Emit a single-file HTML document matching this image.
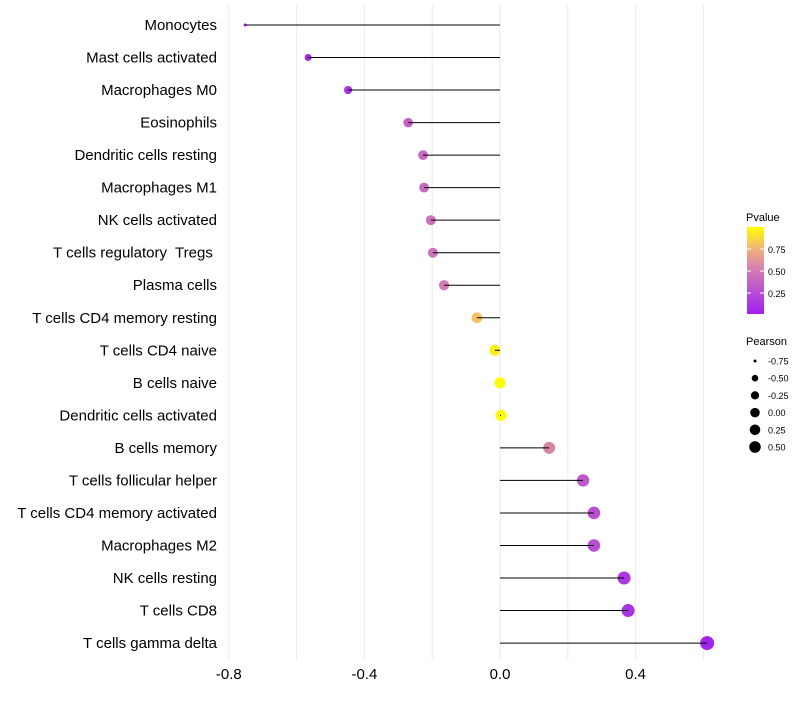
<!DOCTYPE html>
<html><head><meta charset="utf-8"><style>
body{margin:0;background:#fff;font-family:"Liberation Sans",sans-serif}
svg text{font-family:"Liberation Sans",sans-serif;white-space:pre}
</style></head><body>
<svg id="c" width="800" height="700" xmlns="http://www.w3.org/2000/svg">
<defs><linearGradient id="pg" x1="0" y1="1" x2="0" y2="0">
<stop offset="0" stop-color="#a020f0"/><stop offset="0.5" stop-color="#d27bb4"/><stop offset="0.75" stop-color="#f2b37a"/><stop offset="1" stop-color="#ffff00"/></linearGradient></defs>
<g id="grid"></g><g id="pts"></g><g id="marks"></g><g id="labels"></g>
<g>
<text x="746" y="221" font-size="11" fill="#000">Pvalue</text>
<rect x="747" y="227" width="17" height="87" fill="url(#pg)"/>
<text x="768" y="253" font-size="9">0.75</text><text x="768" y="275" font-size="9">0.50</text><text x="768" y="297" font-size="9">0.25</text>
<line x1="747" y1="249" x2="751" y2="249" stroke="#fff"/><line x1="760" y1="249" x2="764" y2="249" stroke="#fff"/>
<line x1="747" y1="271" x2="751" y2="271" stroke="#fff"/><line x1="760" y1="271" x2="764" y2="271" stroke="#fff"/>
<line x1="747" y1="293" x2="751" y2="293" stroke="#fff"/><line x1="760" y1="293" x2="764" y2="293" stroke="#fff"/>
</g>
<g id="sleg"><text x="746" y="345" font-size="11">Pearson</text></g>
</svg>
<script>
const categories=["Monocytes","Mast cells activated","Macrophages M0","Eosinophils","Dendritic cells resting","Macrophages M1","NK cells activated","T cells regulatory  Tregs ","Plasma cells","T cells CD4 memory resting","T cells CD4 naive","B cells naive","Dendritic cells activated","B cells memory","T cells follicular helper","T cells CD4 memory activated","Macrophages M2","NK cells resting","T cells CD8","T cells gamma delta"];
const pearson=[-0.752,-0.566,-0.448,-0.271,-0.227,-0.224,-0.204,-0.198,-0.165,-0.068,-0.015,0.0,0.003,0.145,0.245,0.277,0.277,0.366,0.378,0.611];
const pvalues=[0.02,0.05,0.1,0.35,0.4,0.4,0.45,0.45,0.5,0.8,0.95,0.99,0.99,0.55,0.3,0.25,0.25,0.12,0.1,0.02];
const xTicks=[-0.8,-0.4,0.0,0.4];
const sizeLegend=[-0.75,-0.5,-0.25,0.0,0.25,0.5];
const NS="http://www.w3.org/2000/svg";
const x=v=>500+v*339, y=i=>25+i*32.53, r=v=>1.5+5.5*Math.sqrt(Math.max(0,v+0.752)/1.363);
function col(p){const st=[[0,[160,32,240]],[0.5,[210,123,180]],[0.75,[242,179,122]],[1,[255,255,0]]];
for(let k=1;k<st.length;k++){if(p<=st[k][0]){const a=st[k-1],b=st[k],t=(p-a[0])/(b[0]-a[0]);return "rgb("+a[1].map((c,j)=>Math.round(c+(b[1][j]-c)*t)).join(",")+")";}}return "rgb(255,255,0)";}
function mk(t,a,p){const e=document.createElementNS(NS,t);for(const k in a)e.setAttribute(k,a[k]);(p||document.getElementById('c')).appendChild(e);return e;}
const G=document.getElementById('grid'),P=document.getElementById('pts'),M=document.getElementById('marks'),L=document.getElementById('labels');
[-0.8,-0.6,-0.4,-0.2,0,0.2,0.4,0.6].forEach(v=>{const g=mk('line',{x1:x(v),x2:x(v),y1:5,y2:660,stroke:'#ebebeb','stroke-width':1},G);

});
xTicks.forEach(v=>{const t=mk('text',{x:x(v),y:679,'font-size':15,'text-anchor':'middle',fill:'#000'},L);t.textContent=v.toFixed(1);

});
categories.forEach((c,i)=>{
const t=mk('text',{x:217,y:y(i)+5,'font-size':15,'text-anchor':'end',fill:'#000'},L);t.textContent=c;


const d=mk('circle',{cx:x(pearson[i]),cy:y(i),r:r(pearson[i]),fill:col(pvalues[i])},P);


const l=mk('line',{x1:x(0),x2:x(pearson[i]),y1:y(i),y2:y(i),stroke:'#000','stroke-width':1},M);


});
const S=document.getElementById('sleg');
sizeLegend.forEach((v,i)=>{const cy=361+i*17.2;
const d=mk('circle',{cx:755,cy:cy,r:r(v)*0.85,fill:'#000'},S);


const t=mk('text',{x:768,y:cy+3.5,'font-size':9},S);t.textContent=v.toFixed(2);

});
</script>
</body></html>
